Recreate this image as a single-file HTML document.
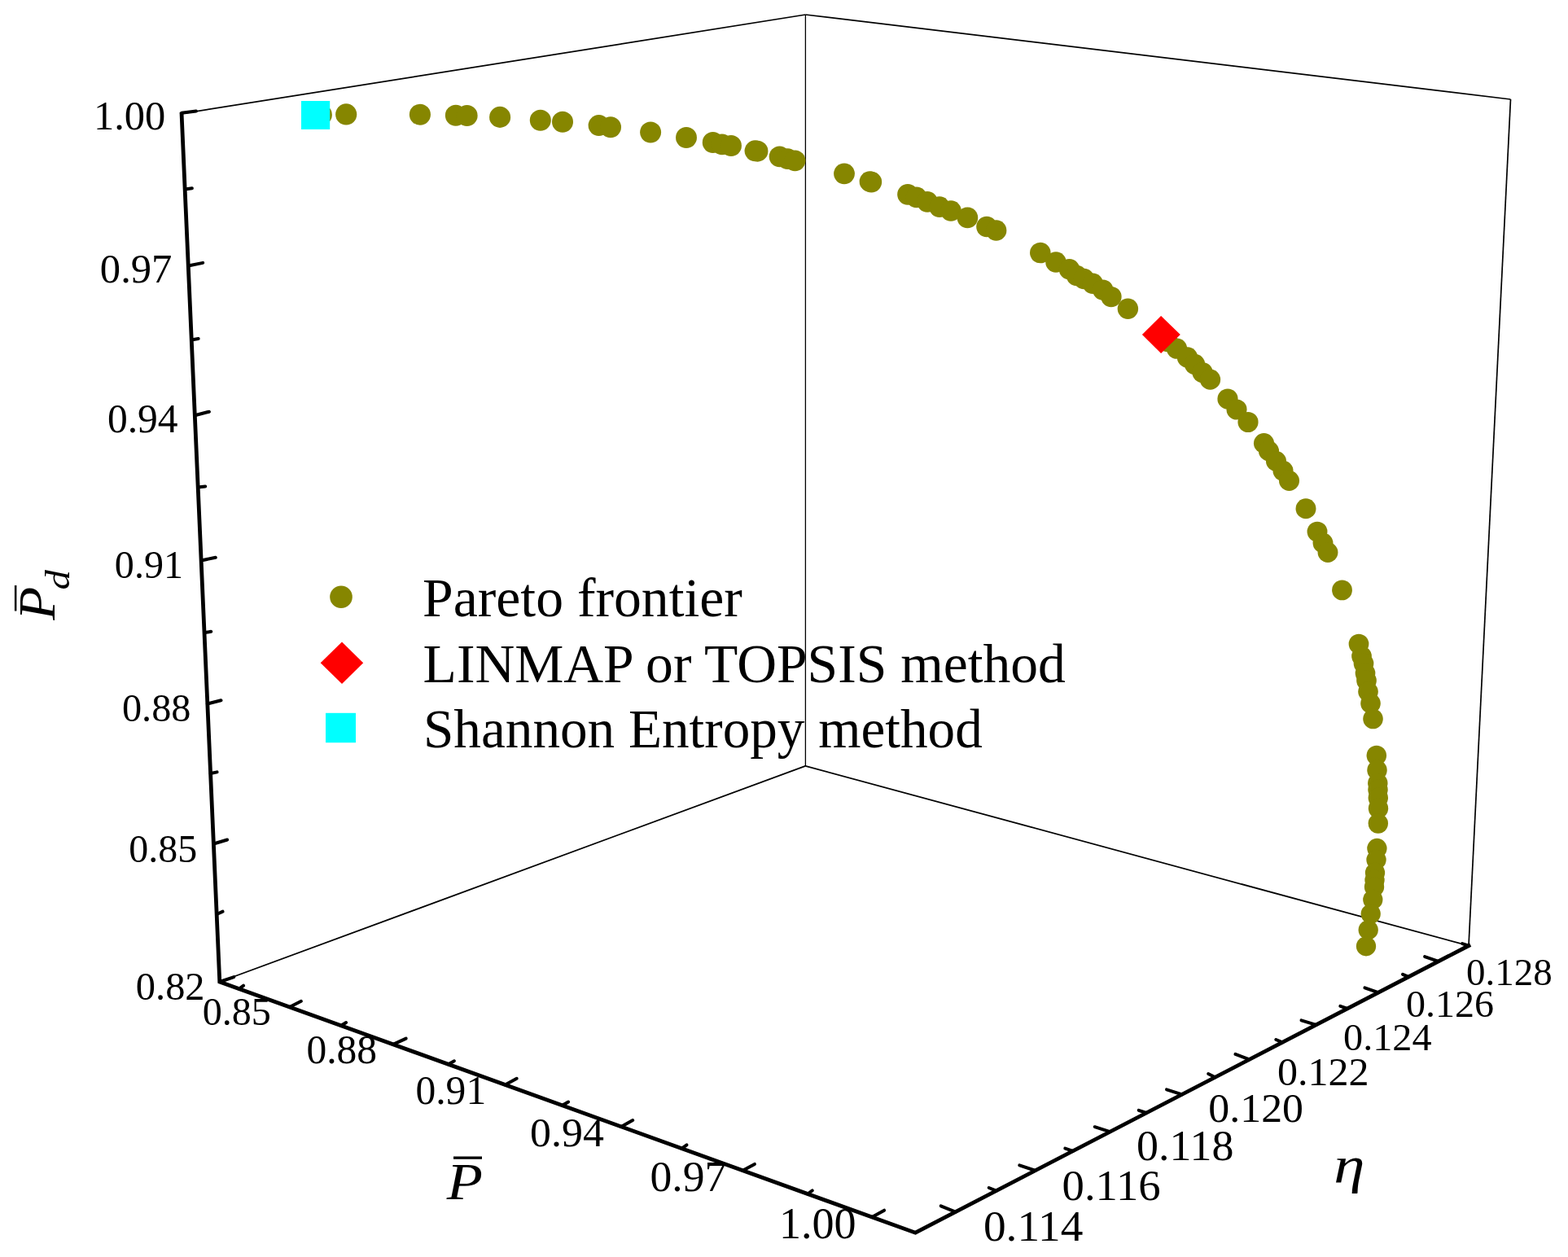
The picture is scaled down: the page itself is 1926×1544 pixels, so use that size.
<!DOCTYPE html><html><head><meta charset="utf-8"><title>Pareto frontier 3D</title><style>html,body{margin:0;padding:0;background:#fff;overflow:hidden}svg{display:block}text{font-family:'Liberation Serif', 'Times New Roman', serif;fill:#000}</style></head><body>
<svg width="1926" height="1544" viewBox="0 0 1926 1544">
<rect width="1926" height="1544" fill="#fff"/>
<line x1="223.1" y1="139.6" x2="989.4" y2="18.0" stroke="#000" stroke-width="1.7"/>
<line x1="989.4" y1="18.0" x2="1855.5" y2="122.0" stroke="#000" stroke-width="1.7"/>
<line x1="1855.5" y1="122.0" x2="1804.0" y2="1161.6" stroke="#000" stroke-width="1.7"/>
<line x1="269.8" y1="1206.0" x2="989.3" y2="940.9" stroke="#000" stroke-width="1.7"/>
<line x1="989.3" y1="940.9" x2="1804.0" y2="1161.6" stroke="#000" stroke-width="1.7"/>
<line x1="989.4" y1="18" x2="989.4" y2="940.9" stroke="#000" stroke-width="1.3"/>
<polyline points="223.1,140.4 269.8,1206.0 1124.4,1514.2 1804.0,1161.6" stroke="#000" stroke-width="4.8" stroke-linecap="square" fill="none" stroke-linejoin="miter"/>
<line x1="223.0" y1="138.8" x2="240.9" y2="136.6" stroke="#000" stroke-width="4" stroke-linecap="round"/>
<line x1="231.3" y1="326.5" x2="249.2" y2="322.9" stroke="#000" stroke-width="4" stroke-linecap="round"/>
<line x1="239.3" y1="510.3" x2="256.9" y2="505.7" stroke="#000" stroke-width="4" stroke-linecap="round"/>
<line x1="247.1" y1="688.5" x2="264.8" y2="684.8" stroke="#000" stroke-width="4" stroke-linecap="round"/>
<line x1="254.8" y1="864.5" x2="271.5" y2="860.2" stroke="#000" stroke-width="4" stroke-linecap="round"/>
<line x1="262.4" y1="1036.5" x2="279.1" y2="1031.5" stroke="#000" stroke-width="4" stroke-linecap="round"/>
<line x1="269.8" y1="1206.0" x2="287.3" y2="1200.1" stroke="#000" stroke-width="4" stroke-linecap="round"/>
<line x1="227.1" y1="232.6" x2="235.9" y2="231.3" stroke="#000" stroke-width="4" stroke-linecap="round"/>
<line x1="235.2" y1="417.4" x2="243.7" y2="416.1" stroke="#000" stroke-width="4" stroke-linecap="round"/>
<line x1="243.2" y1="598.5" x2="252.2" y2="597.5" stroke="#000" stroke-width="4" stroke-linecap="round"/>
<line x1="251.0" y1="777.3" x2="259.2" y2="775.7" stroke="#000" stroke-width="4" stroke-linecap="round"/>
<line x1="258.6" y1="950.0" x2="266.6" y2="948.4" stroke="#000" stroke-width="4" stroke-linecap="round"/>
<line x1="266.2" y1="1123.0" x2="273.6" y2="1119.7" stroke="#000" stroke-width="4" stroke-linecap="round"/>
<line x1="293.8" y1="1214.7" x2="299.1" y2="1210.6" stroke="#000" stroke-width="4" stroke-linecap="round"/>
<line x1="355.7" y1="1237.0" x2="369.9" y2="1229.8" stroke="#000" stroke-width="4" stroke-linecap="round"/>
<line x1="419.0" y1="1259.8" x2="425.1" y2="1256.0" stroke="#000" stroke-width="4" stroke-linecap="round"/>
<line x1="482.9" y1="1282.9" x2="498.7" y2="1275.6" stroke="#000" stroke-width="4" stroke-linecap="round"/>
<line x1="550.7" y1="1307.3" x2="557.9" y2="1303.3" stroke="#000" stroke-width="4" stroke-linecap="round"/>
<line x1="620.5" y1="1332.5" x2="634.7" y2="1324.8" stroke="#000" stroke-width="4" stroke-linecap="round"/>
<line x1="690.6" y1="1357.8" x2="698.1" y2="1353.5" stroke="#000" stroke-width="4" stroke-linecap="round"/>
<line x1="763.0" y1="1383.9" x2="777.2" y2="1376.1" stroke="#000" stroke-width="4" stroke-linecap="round"/>
<line x1="837.5" y1="1410.7" x2="843.5" y2="1406.4" stroke="#000" stroke-width="4" stroke-linecap="round"/>
<line x1="912.4" y1="1437.7" x2="926.9" y2="1429.9" stroke="#000" stroke-width="4" stroke-linecap="round"/>
<line x1="992.1" y1="1466.5" x2="997.8" y2="1462.4" stroke="#000" stroke-width="4" stroke-linecap="round"/>
<line x1="1071.1" y1="1495.0" x2="1086.1" y2="1486.7" stroke="#000" stroke-width="4" stroke-linecap="round"/>
<line x1="1173.6" y1="1488.7" x2="1155.7" y2="1481.3" stroke="#000" stroke-width="4" stroke-linecap="round"/>
<line x1="1223.6" y1="1462.7" x2="1214.7" y2="1459.0" stroke="#000" stroke-width="4" stroke-linecap="round"/>
<line x1="1271.6" y1="1437.8" x2="1252.3" y2="1431.3" stroke="#000" stroke-width="4" stroke-linecap="round"/>
<line x1="1317.9" y1="1413.8" x2="1308.3" y2="1410.6" stroke="#000" stroke-width="4" stroke-linecap="round"/>
<line x1="1363.3" y1="1390.2" x2="1344.7" y2="1384.2" stroke="#000" stroke-width="4" stroke-linecap="round"/>
<line x1="1408.1" y1="1367.0" x2="1398.7" y2="1363.8" stroke="#000" stroke-width="4" stroke-linecap="round"/>
<line x1="1451.9" y1="1344.3" x2="1433.0" y2="1338.4" stroke="#000" stroke-width="4" stroke-linecap="round"/>
<line x1="1492.6" y1="1323.2" x2="1484.2" y2="1319.0" stroke="#000" stroke-width="4" stroke-linecap="round"/>
<line x1="1534.6" y1="1301.4" x2="1517.5" y2="1294.9" stroke="#000" stroke-width="4" stroke-linecap="round"/>
<line x1="1575.1" y1="1280.4" x2="1567.3" y2="1277.0" stroke="#000" stroke-width="4" stroke-linecap="round"/>
<line x1="1616.6" y1="1258.8" x2="1598.5" y2="1253.3" stroke="#000" stroke-width="4" stroke-linecap="round"/>
<line x1="1655.2" y1="1238.8" x2="1646.3" y2="1235.8" stroke="#000" stroke-width="4" stroke-linecap="round"/>
<line x1="1692.9" y1="1219.2" x2="1676.4" y2="1213.3" stroke="#000" stroke-width="4" stroke-linecap="round"/>
<line x1="1730.1" y1="1199.9" x2="1723.0" y2="1196.8" stroke="#000" stroke-width="4" stroke-linecap="round"/>
<line x1="1766.9" y1="1180.8" x2="1750.1" y2="1175.1" stroke="#000" stroke-width="4" stroke-linecap="round"/>
<line x1="1804.0" y1="1161.6" x2="1796.2" y2="1159.1" stroke="#000" stroke-width="4" stroke-linecap="round"/>
<text transform="translate(114.92 159.32) scale(0.5053 0.5069)" font-size="100">1.00</text>
<text transform="translate(122.84 347.22) scale(0.5061 0.5099)" font-size="100">0.97</text>
<text transform="translate(131.88 531.22) scale(0.4957 0.5099)" font-size="100">0.94</text>
<text transform="translate(140.84 710.25) scale(0.4808 0.4892)" font-size="100">0.91</text>
<text transform="translate(149.93 886.46) scale(0.4831 0.4788)" font-size="100">0.88</text>
<text transform="translate(158.34 1059.35) scale(0.4793 0.4862)" font-size="100">0.85</text>
<text transform="translate(166.82 1228.27) scale(0.4841 0.4759)" font-size="100">0.82</text>
<text transform="translate(248.74 1258.65) scale(0.4811 0.4906)" font-size="100">0.85</text>
<text transform="translate(376.38 1306.33) scale(0.4956 0.5010)" font-size="100">0.88</text>
<text transform="translate(510.48 1355.53) scale(0.4954 0.5039)" font-size="100">0.91</text>
<text transform="translate(651.10 1408.21) scale(0.5187 0.5158)" font-size="100">0.94</text>
<text transform="translate(798.53 1463.00) scale(0.5364 0.5246)" font-size="100">0.97</text>
<text transform="translate(956.91 1521.28) scale(0.5410 0.5409)" font-size="100">1.00</text>
<text transform="translate(1207.97 1524.49) scale(0.5532 0.5350)" font-size="100">0.114</text>
<text transform="translate(1304.59 1473.58) scale(0.5469 0.5365)" font-size="100">0.116</text>
<text transform="translate(1396.12 1424.60) scale(0.5392 0.5246)" font-size="100">0.118</text>
<text transform="translate(1484.30 1378.11) scale(0.5187 0.5143)" font-size="100">0.120</text>
<text transform="translate(1568.96 1333.15) scale(0.5008 0.4906)" font-size="100">0.122</text>
<text transform="translate(1650.03 1289.59) scale(0.4825 0.4611)" font-size="100">0.124</text>
<text transform="translate(1726.94 1249.09) scale(0.4805 0.4611)" font-size="100">0.126</text>
<text transform="translate(1800.98 1210.37) scale(0.4700 0.4729)" font-size="100">0.128</text>
<text transform="translate(548.78 1472.80) scale(0.7230 0.6411)" font-size="100" font-style="italic">P</text>
<rect x="557" y="1420.5" width="35" height="3.3" fill="#000"/>
<text transform="translate(1638.28 1452.16) scale(0.7704 0.6395)" font-size="100" font-style="italic">η</text>
<text transform="translate(67.20 761.75) rotate(-90) scale(0.6691 0.6381)" font-size="100" font-style="italic">P</text>
<text transform="translate(84.67 724.46) rotate(-90) scale(0.4859 0.4308)" font-size="100" font-style="italic">d</text>
<rect x="17.9" y="719" width="2.5" height="31.5" fill="#000"/>
<g fill="#868600">
<circle cx="394.8" cy="141.0" r="13.08"/>
<circle cx="425.2" cy="140.4" r="13.08"/>
<circle cx="515.9" cy="140.7" r="13.06"/>
<circle cx="559.9" cy="141.7" r="13.05"/>
<circle cx="573.6" cy="142.0" r="13.04"/>
<circle cx="614.1" cy="143.9" r="13.03"/>
<circle cx="663.8" cy="147.7" r="13.02"/>
<circle cx="691.0" cy="149.7" r="13.01"/>
<circle cx="735.6" cy="154.1" r="13.00"/>
<circle cx="750.0" cy="156.3" r="12.99"/>
<circle cx="799.1" cy="162.5" r="12.98"/>
<circle cx="843.0" cy="169.0" r="12.96"/>
<circle cx="875.7" cy="175.0" r="12.95"/>
<circle cx="886.9" cy="177.4" r="12.95"/>
<circle cx="898.0" cy="179.0" r="12.94"/>
<circle cx="927.5" cy="185.3" r="12.93"/>
<circle cx="930.5" cy="185.7" r="12.93"/>
<circle cx="957.6" cy="192.4" r="12.92"/>
<circle cx="967.4" cy="195.2" r="12.92"/>
<circle cx="976.5" cy="197.3" r="12.91"/>
<circle cx="1037.0" cy="213.3" r="12.89"/>
<circle cx="1068.5" cy="223.0" r="12.87"/>
<circle cx="1070.3" cy="223.6" r="12.87"/>
<circle cx="1115.0" cy="238.8" r="12.85"/>
<circle cx="1125.7" cy="242.4" r="12.85"/>
<circle cx="1139.0" cy="247.8" r="12.84"/>
<circle cx="1154.0" cy="254.2" r="12.83"/>
<circle cx="1168.0" cy="259.0" r="12.83"/>
<circle cx="1188.4" cy="267.4" r="12.82"/>
<circle cx="1212.0" cy="278.5" r="12.80"/>
<circle cx="1223.6" cy="283.0" r="12.80"/>
<circle cx="1277.8" cy="310.6" r="12.77"/>
<circle cx="1297.0" cy="322.0" r="12.76"/>
<circle cx="1313.5" cy="330.7" r="12.75"/>
<circle cx="1322.5" cy="338.5" r="12.74"/>
<circle cx="1331.4" cy="342.4" r="12.73"/>
<circle cx="1342.2" cy="348.2" r="12.73"/>
<circle cx="1354.7" cy="356.1" r="12.72"/>
<circle cx="1364.9" cy="364.6" r="12.71"/>
<circle cx="1385.4" cy="379.3" r="12.70"/>
<circle cx="1434.0" cy="419.5" r="12.66"/>
<circle cx="1445.5" cy="428.2" r="12.65"/>
<circle cx="1458.5" cy="439.0" r="12.64"/>
<circle cx="1467.5" cy="447.5" r="12.63"/>
<circle cx="1477.0" cy="457.5" r="12.62"/>
<circle cx="1486.5" cy="466.2" r="12.62"/>
<circle cx="1508.0" cy="490.0" r="12.59"/>
<circle cx="1519.0" cy="503.0" r="12.58"/>
<circle cx="1533.0" cy="518.5" r="12.57"/>
<circle cx="1552.5" cy="544.5" r="12.55"/>
<circle cx="1558.5" cy="554.0" r="12.54"/>
<circle cx="1567.5" cy="566.5" r="12.53"/>
<circle cx="1576.0" cy="578.3" r="12.52"/>
<circle cx="1583.5" cy="590.5" r="12.51"/>
<circle cx="1604.0" cy="624.7" r="12.48"/>
<circle cx="1618.0" cy="653.1" r="12.46"/>
<circle cx="1625.0" cy="667.0" r="12.45"/>
<circle cx="1631.0" cy="678.5" r="12.44"/>
<circle cx="1648.5" cy="724.9" r="12.41"/>
<circle cx="1669.0" cy="791.0" r="12.36"/>
<circle cx="1672.5" cy="806.0" r="12.35"/>
<circle cx="1675.0" cy="815.0" r="12.34"/>
<circle cx="1677.0" cy="827.0" r="12.33"/>
<circle cx="1678.5" cy="836.0" r="12.32"/>
<circle cx="1680.5" cy="849.6" r="12.31"/>
<circle cx="1683.5" cy="864.0" r="12.30"/>
<circle cx="1686.5" cy="883.0" r="12.29"/>
<circle cx="1690.8" cy="928.0" r="12.26"/>
<circle cx="1691.5" cy="946.0" r="12.25"/>
<circle cx="1692.3" cy="962.0" r="12.24"/>
<circle cx="1692.5" cy="970.0" r="12.23"/>
<circle cx="1692.8" cy="980.0" r="12.22"/>
<circle cx="1693.0" cy="993.0" r="12.22"/>
<circle cx="1692.8" cy="1011.5" r="12.20"/>
<circle cx="1691.4" cy="1042.0" r="12.18"/>
<circle cx="1690.5" cy="1056.0" r="12.17"/>
<circle cx="1689.0" cy="1072.0" r="12.16"/>
<circle cx="1688.5" cy="1081.0" r="12.16"/>
<circle cx="1688.0" cy="1089.4" r="12.15"/>
<circle cx="1686.3" cy="1105.0" r="12.14"/>
<circle cx="1683.7" cy="1122.6" r="12.13"/>
<circle cx="1680.7" cy="1142.3" r="12.12"/>
<circle cx="1678.0" cy="1162.3" r="12.11"/>
</g>
<polygon points="1402.9,411.1 1426.1,387.9 1449.8,411.1 1426.1,434" fill="#f00"/>
<rect x="370" y="124" width="35.2" height="34.9" fill="#0ff"/>
<circle cx="419" cy="733.3" r="13.8" fill="#868600"/>
<polygon points="393.7,814.3 420,788.5 446.2,814.3 420,840" fill="#f00"/>
<rect x="400" y="875.8" width="37" height="36.4" fill="#0ff"/>
<text x="519.1" y="756.8" font-size="67.7">Pareto frontier</text>
<text x="519.6" y="838.0" font-size="67.6">LINMAP or TOPSIS method</text>
<text x="520.0" y="918.3" font-size="67.2">Shannon Entropy method</text>
</svg></body></html>
